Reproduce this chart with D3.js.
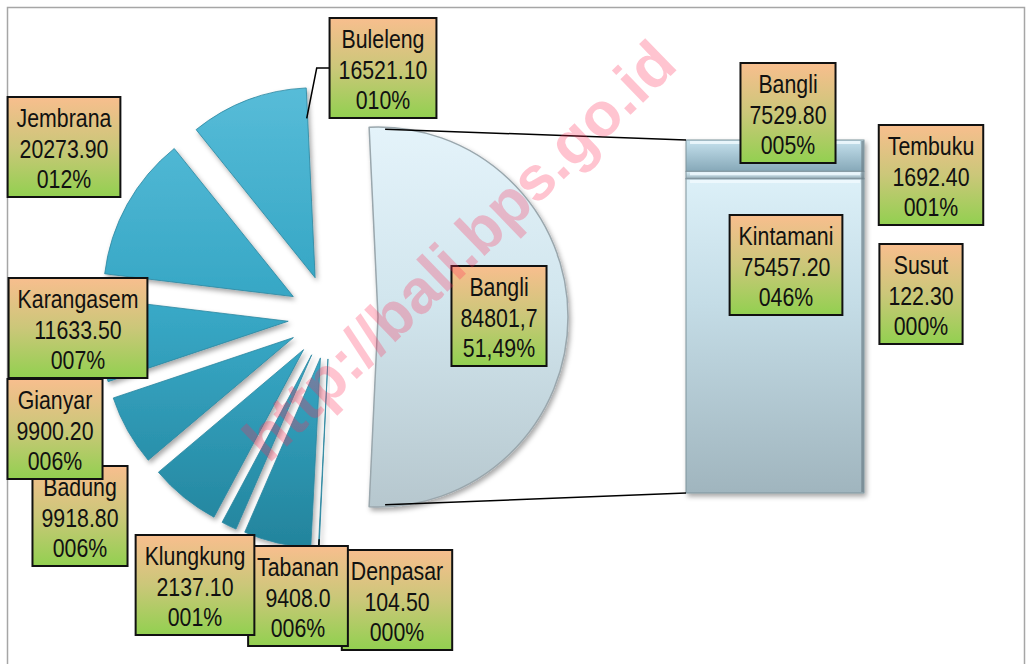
<!DOCTYPE html>
<html>
<head>
<meta charset="utf-8">
<script src="https://cdn.jsdelivr.net/npm/d3@7"></script>
<style>
  body { margin: 0; background: #fff; }
  svg { display: block; }
</style>
</head>
<body>
<div id="chart"></div>
<script>
// kabupaten / kota (pie), clockwise starting with the "other" slice
var regencies = ["Bangli", "Denpasar", "Tabanan", "Klungkung", "Badung", "Gianyar", "Karangasem", "Jembrana", "Buleleng"];
var regencyValues = [84801.7, 104.5, 9408.0, 2137.1, 9918.8, 9900.2, 11633.5, 20273.9, 16521.1];
var regencyValueText = ["84801,7", "104.50", "9408.0", "2137.10", "9918.80", "9900.20", "11633.50", "20273.90", "16521.10"];

// kecamatan in Bangli (bar), top to bottom
var districts = ["Bangli", "Tembuku", "Susut", "Kintamani"];
var districtValues = [7529.8, 1692.4, 122.3, 75457.2];
var districtValueText = ["7529.80", "1692.40", "122.30", "75457.20"];

var width = 1026, height = 664;

// label box centres (dragged by hand in the original)
var labelPos = {
    "Buleleng": [383, 68], "Jembrana": [64, 147], "Karangasem": [78, 328],
    "Gianyar": [55, 429], "Badung": [80, 516], "Klungkung": [195, 585],
    "Tabanan": [298, 596], "Denpasar": [397, 600], "Bangli": [499, 316]
};
var barLabelPos = {
    "Bangli": [788, 113], "Tembuku": [931, 175], "Kintamani": [786, 265], "Susut": [921, 294]
};

var total = d3.sum(regencyValues);
var pctFmt = d3.format("04.0%");
var commaFmt = d3.formatLocale({decimal: ",", thousands: ".", grouping: [3], currency: ["", ""]}).format(".2%");

var svg = d3.select("#chart").append("svg")
    .attr("width", width)
    .attr("height", height);

var defs = svg.append("defs");

var shadow = defs.append("filter").attr("id", "shadow")
    .attr("x", "-20%").attr("y", "-20%").attr("width", "140%").attr("height", "140%");
shadow.append("feDropShadow")
    .attr("dx", 2).attr("dy", 3).attr("stdDeviation", 2.5)
    .attr("flood-color", "#000").attr("flood-opacity", 0.35);

var cx = 330, cy = 317, radius = 190, explode = 42;

// slices are drawn in local coords round their own apex, so the gradient is too
var teal = defs.append("linearGradient").attr("id", "teal")
    .attr("gradientUnits", "userSpaceOnUse")
    .attr("x1", 0).attr("y1", 100 - cy).attr("x2", 0).attr("y2", 560 - cy);
teal.append("stop").attr("offset", "0%").attr("stop-color", "#5cbfdb");
teal.append("stop").attr("offset", "45%").attr("stop-color", "#38a8c6");
teal.append("stop").attr("offset", "100%").attr("stop-color", "#1d7a91");

var pale = defs.append("linearGradient").attr("id", "pale")
    .attr("x1", 0).attr("y1", 0).attr("x2", 0).attr("y2", 1);
pale.append("stop").attr("offset", "0%").attr("stop-color", "#e4f3fa");
pale.append("stop").attr("offset", "45%").attr("stop-color", "#d2e6ee");
pale.append("stop").attr("offset", "100%").attr("stop-color", "#b6c7ce");

var barTop = defs.append("linearGradient").attr("id", "barTop")
    .attr("x1", 0).attr("y1", 0).attr("x2", 0).attr("y2", 1);
barTop.append("stop").attr("offset", "0%").attr("stop-color", "#c6e2ee");
barTop.append("stop").attr("offset", "100%").attr("stop-color", "#86a8b8");

var barMain = defs.append("linearGradient").attr("id", "barMain")
    .attr("x1", 0).attr("y1", 0).attr("x2", 0).attr("y2", 1);
barMain.append("stop").attr("offset", "0%").attr("stop-color", "#dcf0f8");
barMain.append("stop").attr("offset", "40%").attr("stop-color", "#c4dce6");
barMain.append("stop").attr("offset", "100%").attr("stop-color", "#a0b5be");

var boxGrad = defs.append("linearGradient").attr("id", "boxGrad")
    .attr("x1", 0).attr("y1", 0).attr("x2", 0).attr("y2", 1);
boxGrad.append("stop").attr("offset", "0%").attr("stop-color", "#f8be8e");
boxGrad.append("stop").attr("offset", "50%").attr("stop-color", "#cbc779");
boxGrad.append("stop").attr("offset", "100%").attr("stop-color", "#92d050");

// outer chart border
svg.append("rect")
    .attr("x", 7.5).attr("y", 7.5)
    .attr("width", 1017).attr("height", 700)
    .attr("fill", "none").attr("stroke", "#a6a6a6").attr("stroke-width", 1.5);

// pie
var pFrac = regencyValues[0] / total;
var pie = d3.pie().sort(null)
    .startAngle(Math.PI / 2 - Math.PI * pFrac)
    .endAngle(Math.PI / 2 - Math.PI * pFrac + 2 * Math.PI);
var arcs = pie(regencyValues);
var arc = d3.arc().innerRadius(0).outerRadius(radius);

function offsetOf(d, i) {
    var a = (d.startAngle + d.endAngle) / 2;
    var e = i === 0 ? explode + 6 : explode;
    return [cx + Math.sin(a) * e, cy - Math.cos(a) * e];
}

var pieG = svg.append("g").attr("class", "pie");
pieG.selectAll("path")
    .data(arcs)
    .enter().append("path")
    .attr("transform", function(d, i) {
        var o = offsetOf(d, i);
        return "translate(" + o[0] + "," + o[1] + ")";
    })
    .attr("d", arc)
    .attr("fill", function(d, i) { return i === 0 ? "url(#pale)" : "url(#teal)"; })
    .attr("stroke", function(d, i) { return i === 0 ? "#9aa7ad" : "#2c87a0"; })
    .attr("stroke-width", function(d, i) { return i === 0 ? 1.5 : 0.8; })
    .attr("stroke-linejoin", "round")
    .attr("filter", "url(#shadow)");

// bar of the Bangli breakdown
var barX = 686, barW = 178;
var yBar = d3.scaleLinear()
    .domain([0, d3.sum(districtValues)])
    .range([140, 493]);
var cum = 0;
var segs = districtValues.map(function(v, i) {
    var s = {name: districts[i], value: v, y0: cum, y1: cum + v, i: i};
    cum += v;
    return s;
});

var barG = svg.append("g").attr("class", "bar").attr("filter", "url(#shadow)");
barG.selectAll("rect")
    .data(segs)
    .enter().append("rect")
    .attr("x", barX)
    .attr("y", function(d) { return yBar(d.y0); })
    .attr("width", barW)
    .attr("height", function(d) { return Math.max(0.5, yBar(d.y1) - yBar(d.y0)); })
    .attr("fill", function(d) { return d.i === 0 ? "url(#barTop)" : "url(#barMain)"; })
    .attr("stroke", "#7f939c")
    .attr("stroke-width", 1);
// light inner bevel line at top of each segment
barG.selectAll("line.bevel")
    .data(segs.filter(function(d) { return yBar(d.y1) - yBar(d.y0) > 4; }))
    .enter().append("line")
    .attr("class", "bevel")
    .attr("x1", barX + 4).attr("x2", barX + barW - 4)
    .attr("y1", function(d) { return yBar(d.y0) + 2.5; })
    .attr("y2", function(d) { return yBar(d.y0) + 2.5; })
    .attr("stroke", "#f2fbff").attr("stroke-width", 3).attr("opacity", 0.8);
// darker right edge
barG.append("line")
    .attr("x1", barX + barW - 1.5).attr("x2", barX + barW - 1.5)
    .attr("y1", yBar(0) + 1).attr("y2", yBar(d3.sum(districtValues)) - 1)
    .attr("stroke", "#6c7f88").attr("stroke-width", 2.5).attr("opacity", 0.7);

// connector lines from the Bangli slice to the bar
var bangli = arcs[0], bo = offsetOf(bangli, 0);
var topPt = [bo[0] + Math.sin(bangli.startAngle) * radius, bo[1] - Math.cos(bangli.startAngle) * radius];
var botPt = [bo[0] + Math.sin(bangli.endAngle) * radius, bo[1] - Math.cos(bangli.endAngle) * radius];
svg.append("line")
    .attr("x1", topPt[0] + 16).attr("y1", topPt[1] + 2).attr("x2", barX).attr("y2", yBar(0))
    .attr("stroke", "#000").attr("stroke-width", 1.5);
svg.append("line")
    .attr("x1", botPt[0] + 16).attr("y1", botPt[1] - 2).attr("x2", barX).attr("y2", yBar(d3.sum(districtValues)))
    .attr("stroke", "#000").attr("stroke-width", 1.5);

// leader lines
var bul = arcs[8], buo = offsetOf(bul, 8);
var bulA = bul.endAngle - 0.006;
var bulPt = [buo[0] + Math.sin(bulA) * radius * 0.84, buo[1] - Math.cos(bulA) * radius * 0.84];
var bulBox = labelPos["Buleleng"];
svg.append("polyline")
    .attr("points", [bulPt, [bulPt[0] + 10, bulBox[1]], [bulBox[0] - 50, bulBox[1]]].map(String).join(" "))
    .attr("fill", "none").attr("stroke", "#000").attr("stroke-width", 1.5);
var den = arcs[1], deo = offsetOf(den, 1);
var denA = (den.startAngle + den.endAngle) / 2;
svg.append("line")
    .attr("x1", deo[0] + Math.sin(denA) * radius * 0.95)
    .attr("y1", deo[1] - Math.cos(denA) * radius * 0.95)
    .attr("x2", deo[0] + Math.sin(denA) * radius * 1.02)
    .attr("y2", deo[1] - Math.cos(denA) * radius * 1.02)
    .attr("stroke", "#000").attr("stroke-width", 1.5);

// data label boxes; the original face is a narrow sans, so squeeze a regular one
var fontFam = "'Liberation Sans', Arial, sans-serif";
var squeeze = 0.82;
function drawLabel(g, pos, lines) {
    var lg = g.append("g").attr("transform", "translate(" + pos[0] + "," + pos[1] + ")");
    var box = lg.append("rect");
    var t = lg.append("text")
        .attr("transform", "scale(" + squeeze + ",1)")
        .attr("text-anchor", "middle")
        .style("font-family", fontFam)
        .style("font-size", "26px")
        .attr("fill", "#111");
    lines.forEach(function(s, k) {
        t.append("tspan").attr("x", 0).attr("y", -20 + k * 30.5).text(s);
    });
    var w = 0;
    t.selectAll("tspan").each(function() { w = Math.max(w, this.getComputedTextLength()); });
    w = w * squeeze + 18;
    box.attr("x", -w / 2).attr("y", -50).attr("width", w).attr("height", 100)
        .attr("fill", "url(#boxGrad)").attr("stroke", "#111").attr("stroke-width", 2);
}

var labelG = svg.append("g").attr("class", "labels");
var drawOrder = ["Denpasar", "Tabanan", "Klungkung", "Badung", "Gianyar", "Karangasem", "Jembrana", "Buleleng", "Bangli"];
drawOrder.forEach(function(name) {
    var i = regencies.indexOf(name);
    var pct = i === 0 ? commaFmt(regencyValues[i] / total) : pctFmt(regencyValues[i] / total);
    drawLabel(labelG, labelPos[name], [name, regencyValueText[i], pct]);
});
districts.forEach(function(name, i) {
    drawLabel(labelG, barLabelPos[name], [name, districtValueText[i], pctFmt(districtValues[i] / total)]);
});

// watermark
svg.append("text")
    .attr("transform", "translate(474,266) rotate(-44)")
    .attr("text-anchor", "middle")
    .style("font-family", "'Liberation Sans', Arial, sans-serif")
    .style("font-weight", "bold")
    .style("font-size", "62px")
    .attr("fill", "#ff2a55")
    .attr("fill-opacity", 0.28)
    .text("http://bali.bps.go.id");
</script>
</body>
</html>
